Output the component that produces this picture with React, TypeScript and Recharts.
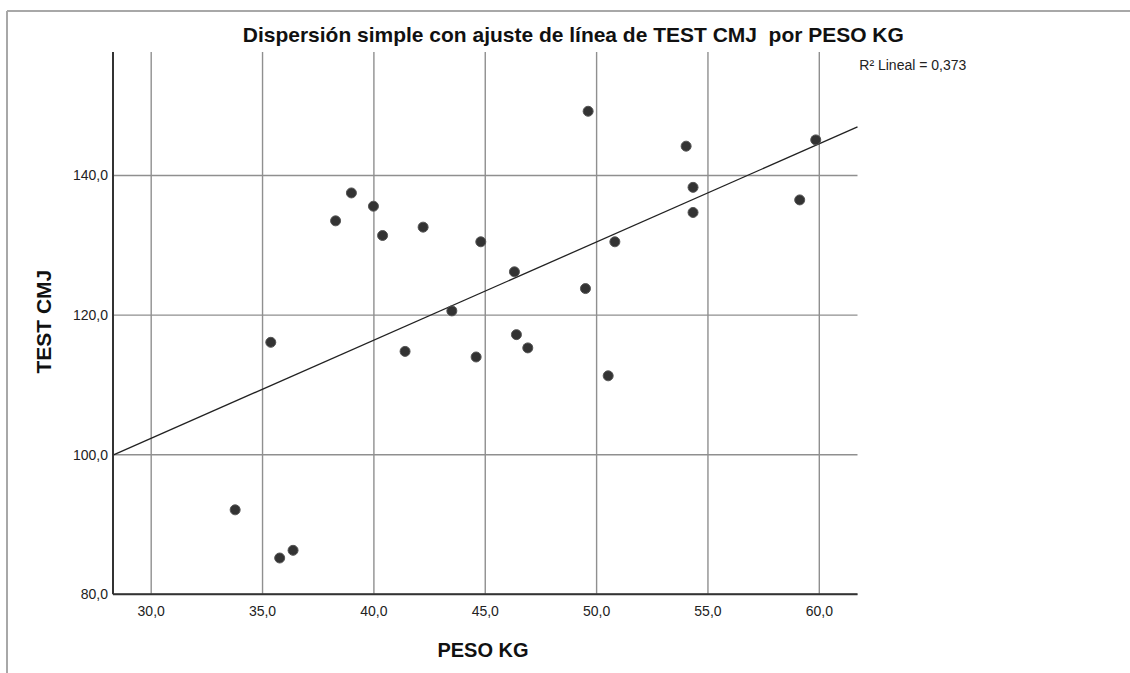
import React from "react"
import { ScatterChart, Scatter, XAxis, YAxis, CartesianGrid, ReferenceLine } from "recharts"

// PESO KG (x) y TEST CMJ (y)
const pesoKg = [
  33.77, 35.77, 36.37, 35.37, 38.28, 38.99, 39.98, 40.39, 42.21, 41.4, 43.5, 44.59, 44.8,
  46.31, 46.4, 46.91, 49.5, 49.62, 50.52, 50.82, 54.02, 54.33, 54.33, 59.12, 59.84,
]
const testCmj = [
  92.1, 85.2, 86.3, 116.1, 133.5, 137.5, 135.6, 131.4, 132.6, 114.8, 120.6, 114.0, 130.5,
  126.2, 117.2, 115.3, 123.8, 149.2, 111.3, 130.5, 144.2, 138.3, 134.7, 136.5, 145.1,
]

const xTicks = [30, 35, 40, 45, 50, 55, 60]
const yTicks = [80, 100, 120, 140]
const xDomain = [28.285, 61.715]
const yDomain = [80, 157.69]

// recta de ajuste lineal (R² = 0,373)
const fitIntercept = 60.18
const fitSlope = 1.406
const r2Label = "R² Lineal = 0,373"

const font = "Arial, 'Liberation Sans', sans-serif"
const fmt = (v: number) => v.toFixed(1).replace(".", ",")

const Dot = (props: any) => {
  const { cx, cy } = props
  if (cx == null || cy == null) return null
  return <circle cx={cx} cy={cy} r={5} fill="#333333" stroke="#555555" strokeWidth={1} />
}

export default function App() {
  const data = pesoKg.map((x, i) => ({ x, y: testCmj[i] }))
  const fitLine = [
    { x: xDomain[0], y: fitIntercept + fitSlope * xDomain[0] },
    { x: xDomain[1], y: fitIntercept + fitSlope * xDomain[1] },
  ]

  return (
    <div style={{ position: "absolute", left: 0, top: 0, width: 1130, height: 673, background: "#fff", fontFamily: font }}>
      <ScatterChart width={1130} height={673} margin={{ top: 52, right: 272.5, bottom: 38.7, left: 0 }}>
        <CartesianGrid stroke="#8f8f8f" strokeWidth={1.4} horizontalValues={yTicks} verticalValues={xTicks} />
        <XAxis
          type="number"
          dataKey="x"
          domain={xDomain}
          ticks={xTicks}
          allowDataOverflow
          height={40}
          tickFormatter={fmt}
          tickLine={false}
          tickSize={6}
          tickMargin={6}
          axisLine={{ stroke: "#333", strokeWidth: 2 }}
          tick={{ fill: "#222", fontSize: 14, fontFamily: font }}
        />
        <YAxis
          type="number"
          dataKey="y"
          domain={yDomain}
          ticks={yTicks}
          allowDataOverflow
          width={113}
          tickFormatter={fmt}
          tickLine={false}
          tickSize={0}
          tickMargin={5}
          axisLine={{ stroke: "#333", strokeWidth: 2 }}
          tick={{ fill: "#222", fontSize: 14, fontFamily: font }}
        />
        <ReferenceLine segment={fitLine} stroke="#222" strokeWidth={1.3} ifOverflow="visible" />
        <Scatter data={data} shape={<Dot />} isAnimationActive={false} />
      </ScatterChart>

      <svg width={1130} height={673} style={{ position: "absolute", left: 0, top: 0, pointerEvents: "none" }}>
        <line x1={7} y1={11} x2={1130} y2={11} stroke="#a8a8a8" strokeWidth={2} />
        <line x1={7} y1={11} x2={7} y2={673} stroke="#a8a8a8" strokeWidth={2} />
        <text
          x={573.3}
          y={41.7}
          textAnchor="middle"
          fontSize={21}
          fontWeight="bold"
          fill="#111"
          fontFamily={font}
          style={{ whiteSpace: "pre" }}
          textLength={661}
          lengthAdjust="spacingAndGlyphs"
        >
          Dispersión simple con ajuste de línea de TEST CMJ  por PESO KG
        </text>
        <text x={859.3} y={70} fontSize={14} fill="#222" fontFamily={font}>
          {r2Label}
        </text>
        <text x={483} y={657.3} textAnchor="middle" fontSize={20} fontWeight="bold" fill="#111" fontFamily={font}>
          PESO KG
        </text>
        <text
          transform="translate(51,321.7) rotate(-90)"
          textAnchor="middle"
          fontSize={21}
          fontWeight="bold"
          fill="#111"
          fontFamily={font}
        >
          TEST CMJ
        </text>
      </svg>
    </div>
  )
}
